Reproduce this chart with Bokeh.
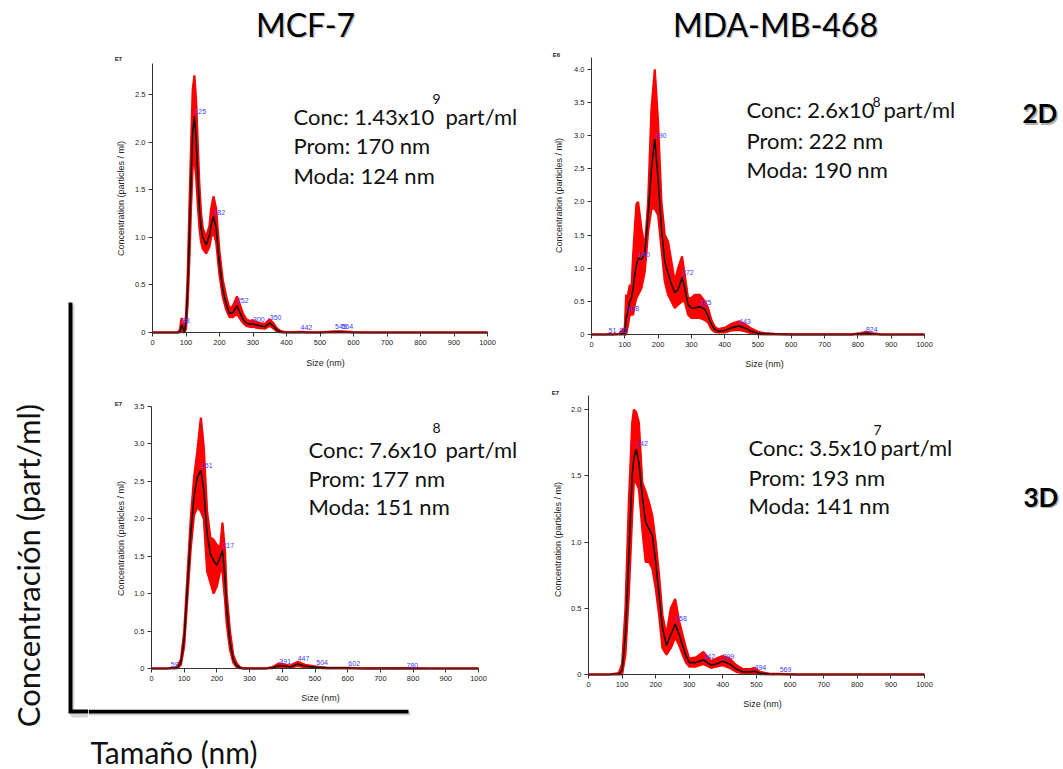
import math
from bokeh.plotting import figure
from bokeh.layouts import row, column
from bokeh.models import Range1d, Label, FixedTicker, PrintfTickFormatter, ColumnDataSource
from bokeh.core.properties import value
from bokeh.embed import file_html
from bokeh.resources import INLINE

# ---------------- data ----------------
cell_lines = ["MCF-7", "MDA-MB-468"]
conditions = ["2D", "3D"]
conc_mantissa = ["1.43", "2.6", "7.6", "3.5"]   # TL, TR, BL, BR
conc_exp = ["9", "8", "8", "7"]
prom_nm = [170, 222, 177, 193]
moda_nm = [124, 190, 151, 141]
exp_labels = ["E7", "E6", "E7", "E7"]
x_ticks = [0, 100, 200, 300, 400, 500, 600, 700, 800, 900, 1000]

# MCF-7 2D (x1e7 particles/ml)
tl_size = [0, 50, 75, 82, 86, 88, 91, 95, 100, 105, 110, 115, 120, 125, 130, 135, 140, 145, 150, 160, 170, 175, 182, 190, 200, 210, 220, 230, 240, 252, 260, 270, 280, 290, 300, 310, 320, 335, 350, 360, 370, 380, 390, 400, 420, 442, 460, 500, 545, 555, 564, 600, 650, 1000]
tl_mean = [0, 0, 0, 0.01, 0.06, 0.08, 0.04, 0.01, 0.1, 0.45, 1.0, 1.6, 2.1, 2.27, 2.05, 1.65, 1.3, 1.1, 1.0, 0.92, 1.02, 1.12, 1.22, 1.1, 0.72, 0.45, 0.3, 0.2, 0.21, 0.28, 0.22, 0.14, 0.1, 0.09, 0.09, 0.08, 0.07, 0.06, 0.1, 0.07, 0.03, 0.01, 0.0, 0, 0, 0.003, 0, 0, 0.005, 0.006, 0.005, 0, 0, 0]
tl_upper = [0, 0, 0, 0.03, 0.14, 0.15, 0.08, 0.02, 0.18, 0.6, 1.3, 1.95, 2.55, 2.7, 2.45, 2.0, 1.55, 1.25, 1.1, 1.0, 1.12, 1.3, 1.43, 1.3, 0.85, 0.55, 0.38, 0.25, 0.28, 0.38, 0.3, 0.2, 0.14, 0.12, 0.13, 0.11, 0.1, 0.09, 0.14, 0.1, 0.05, 0.02, 0.01, 0.005, 0.003, 0.008, 0.003, 0.002, 0.012, 0.012, 0.012, 0.003, 0, 0]
tl_lower = [0, 0, 0, 0, 0.02, 0.03, 0.01, 0, 0.04, 0.3, 0.75, 1.3, 1.75, 1.8, 1.65, 1.35, 1.1, 0.95, 0.88, 0.83, 0.9, 1.0, 1.05, 0.95, 0.6, 0.37, 0.24, 0.16, 0.16, 0.2, 0.15, 0.1, 0.07, 0.06, 0.06, 0.05, 0.045, 0.04, 0.07, 0.045, 0.015, 0.003, 0, 0, 0, 0, 0, 0, 0, 0, 0, 0, 0, 0]
tl_peaks = [88, 125, 182, 252, 300, 350, 442, 545, 564]
tl_peak_y = [0.13, 2.32, 1.26, 0.34, 0.136, 0.154, 0.05, 0.06, 0.06]
tl_yticks = [0, 0.5, 1.0, 1.5, 2.0, 2.5]

# MDA-MB-468 2D (x1e6 particles/ml)
tr_size = [0, 45, 51, 60, 83, 100, 104, 108, 115, 120, 125, 130, 135, 140, 150, 160, 170, 180, 190, 200, 210, 220, 230, 240, 250, 260, 272, 280, 290, 300, 310, 325, 340, 350, 360, 370, 380, 400, 420, 443, 460, 480, 500, 520, 550, 600, 780, 810, 824, 840, 870, 1000]
tr_mean = [0, 0, 0.003, 0, 0.003, 0.02, 0.25, 0.32, 0.5, 0.55, 0.7, 0.9, 1.05, 1.15, 1.13, 1.22, 1.8, 2.5, 2.95, 2.35, 1.6, 1.1, 0.92, 0.76, 0.63, 0.68, 0.86, 0.7, 0.45, 0.4, 0.4, 0.42, 0.38, 0.28, 0.15, 0.08, 0.05, 0.06, 0.1, 0.13, 0.1, 0.05, 0.02, 0.01, 0.005, 0, 0, 0.01, 0.02, 0.01, 0, 0]
tr_upper = [0, 0, 0.01, 0, 0.01, 0.1, 0.6, 0.55, 0.75, 0.7, 1.2, 1.6, 1.97, 2.0, 1.6, 1.3, 2.0, 3.4, 4.0, 3.2, 2.0, 1.5, 1.4, 1.1, 0.8, 1.0, 1.18, 0.9, 0.55, 0.55, 0.6, 0.6, 0.5, 0.4, 0.22, 0.12, 0.08, 0.1, 0.16, 0.2, 0.16, 0.09, 0.04, 0.02, 0.01, 0.003, 0.003, 0.02, 0.04, 0.02, 0.003, 0]
tr_lower = [0, 0, 0, 0, 0, 0, 0.0, 0.1, 0.3, 0.3, 0.3, 0.45, 0.55, 0.6, 0.7, 0.95, 1.55, 1.9, 1.9, 1.8, 1.3, 0.8, 0.6, 0.5, 0.4, 0.45, 0.5, 0.5, 0.3, 0.25, 0.25, 0.25, 0.22, 0.18, 0.08, 0.04, 0.03, 0.03, 0.06, 0.07, 0.05, 0.02, 0.005, 0, 0, 0, 0, 0, 0, 0, 0, 0]
tr_peaks = [51, 83, 108, 140, 190, 272, 325, 443, 824]
tr_peak_y = [0.055, 0.055, 0.39, 1.2, 3.0, 0.93, 0.49, 0.19, 0.075]
tr_yticks = [0, 0.5, 1.0, 1.5, 2.0, 2.5, 3.0, 3.5, 4.0]

# MCF-7 3D (x1e7 particles/ml)
bl_size = [0, 50, 59, 70, 80, 90, 100, 110, 120, 130, 140, 151, 160, 170, 180, 190, 200, 210, 217, 225, 230, 240, 250, 260, 270, 280, 350, 370, 391, 410, 425, 447, 470, 504, 540, 602, 650, 780, 850, 1000]
bl_mean = [0, 0, 0.005, 0.003, 0.02, 0.08, 0.4, 1.1, 1.8, 2.3, 2.55, 2.65, 2.38, 1.8, 1.53, 1.44, 1.38, 1.49, 1.58, 1.2, 0.8, 0.35, 0.12, 0.04, 0.01, 0, 0, 0.01, 0.04, 0.03, 0.02, 0.06, 0.03, 0.015, 0.005, 0.005, 0, 0.003, 0, 0]
bl_upper = [0, 0, 0.01, 0.005, 0.04, 0.12, 0.5, 1.25, 2.0, 2.55, 2.9, 3.35, 2.95, 2.1, 1.75, 1.72, 1.65, 1.62, 1.95, 1.55, 1.0, 0.5, 0.18, 0.07, 0.02, 0.003, 0.003, 0.02, 0.07, 0.05, 0.04, 0.09, 0.05, 0.025, 0.01, 0.01, 0.002, 0.005, 0, 0]
bl_lower = [0, 0, 0, 0, 0.005, 0.05, 0.3, 0.95, 1.6, 2.05, 2.15, 2.1, 2.0, 1.3, 1.15, 1.0, 1.1, 1.3, 1.3, 0.9, 0.6, 0.25, 0.08, 0.02, 0.003, 0, 0, 0.003, 0.02, 0.015, 0.01, 0.035, 0.015, 0.007, 0, 0, 0, 0, 0, 0]
bl_peaks = [59, 151, 217, 391, 447, 504, 602, 780]
bl_peak_y = [0.05, 2.71, 1.64, 0.09, 0.13, 0.075, 0.07, 0.045]
bl_yticks = [0, 0.5, 1.0, 1.5, 2.0, 2.5, 3.0, 3.5]

# MDA-MB-468 3D (x1e7 particles/ml)
br_size = [0, 60, 90, 100, 110, 120, 130, 135, 142, 150, 160, 170, 180, 190, 200, 210, 220, 232, 245, 258, 270, 280, 290, 300, 320, 342, 365, 380, 399, 420, 440, 460, 480, 494, 510, 540, 569, 620, 1000]
br_mean = [0, 0, 0.003, 0.03, 0.3, 0.9, 1.5, 1.63, 1.7, 1.6, 1.35, 1.15, 1.1, 1.05, 0.85, 0.6, 0.35, 0.22, 0.3, 0.38, 0.3, 0.22, 0.14, 0.09, 0.09, 0.11, 0.07, 0.08, 0.1, 0.08, 0.04, 0.02, 0.02, 0.025, 0.01, 0.002, 0.002, 0, 0]
br_upper = [0, 0, 0.01, 0.08, 0.5, 1.3, 1.9, 2.0, 1.98, 1.9, 1.45, 1.38, 1.3, 1.2, 1.0, 0.75, 0.45, 0.3, 0.5, 0.57, 0.4, 0.3, 0.2, 0.12, 0.13, 0.17, 0.1, 0.12, 0.14, 0.12, 0.07, 0.04, 0.04, 0.05, 0.02, 0.005, 0.005, 0, 0]
br_lower = [0, 0, 0, 0.0, 0.15, 0.6, 1.2, 1.45, 1.45, 1.4, 1.1, 0.85, 0.85, 0.8, 0.65, 0.45, 0.2, 0.15, 0.2, 0.28, 0.22, 0.15, 0.09, 0.06, 0.06, 0.08, 0.05, 0.06, 0.07, 0.05, 0.02, 0.01, 0.01, 0.01, 0.003, 0, 0, 0, 0]
br_peaks = [142, 258, 342, 399, 494, 569]
br_peak_y = [1.74, 0.42, 0.136, 0.136, 0.055, 0.035]
br_yticks = [0, 0.5, 1.0, 1.5, 2.0]

# ---------------- layout geometry (page pixels) ----------------
# fig_x/fig_y/w/h: figure box; fl/fr/ft/fb: where size 0..1000 and conc 0..ymax fall
GEOM = {
    "TL": dict(fig_x=88, fig_y=50, w=442, h=325, fl=152, fr=487, ft=63, fb=332, ymax=2.825),
    "TR": dict(fig_x=530, fig_y=50, w=533, h=325, fl=591, fr=924, ft=57, fb=334, ymax=4.18),
    "BL": dict(fig_x=88, fig_y=375, w=442, h=334, fl=151, fr=478, ft=406, fb=668, ymax=3.5),
    "BR": dict(fig_x=530, fig_y=375, w=533, h=334, fl=588, fr=924, ft=395, fb=674, ymax=2.106),
}

SANS = "Liberation Sans"
BIG = "Lato"


def to_data(g, px, py):
    x = (px - g["fl"]) / (g["fr"] - g["fl"]) * 1000.0
    y = (g["fb"] - py) / (g["fb"] - g["ft"]) * g["ymax"]
    return x, y


def add_label(p, g, text, px, py, size, font=BIG, style="normal", align="left",
              baseline="middle", color="#111111", angle=0.0):
    x, y = to_data(g, px, py)
    p.add_layout(Label(x=x, y=y, text=text, text_font=font, text_font_size=f"{size}px",
                       text_font_style=style, text_align=align, text_baseline=baseline,
                       text_color=color, angle=angle))


def panel(key, size, mean, lower, upper, peaks, peak_y, yticks, exp_text, pos, idx, side=None):
    g = GEOM[key]
    x0, y0 = to_data(g, g["fig_x"], g["fig_y"] + g["h"])
    x1, y1 = to_data(g, g["fig_x"] + g["w"], g["fig_y"])
    p = figure(width=g["w"], height=g["h"], x_range=Range1d(x0, x1), y_range=Range1d(y0, y1),
               toolbar_location=None, output_backend="svg", min_border=0)
    p.outline_line_color = None
    p.grid.visible = False
    p.background_fill_color = "white"
    p.border_fill_color = "white"

    src = ColumnDataSource(dict(size=size, mean=mean, lower=lower, upper=upper))
    p.varea(x="size", y1="lower", y2="upper", source=src, fill_color="#ff0000")
    p.line("size", "upper", source=src, line_color="#ff0000", line_width=2.2)
    p.line("size", "lower", source=src, line_color="#ff0000", line_width=2.2)
    p.line("size", "mean", source=src, line_color="#111111", line_width=1.6)

    lsrc = ColumnDataSource(dict(x=peaks, y=peak_y, t=[str(v) for v in peaks]))
    p.text(x="x", y="y", text="t", source=lsrc, text_font=value(SANS), text_font_size="7px",
           text_color="#3d3dff", text_align="left", text_baseline="middle")

    for ax in (p.xaxis[0], p.yaxis[0]):
        ax.fixed_location = 0
        ax.axis_line_color = "#333333"
        ax.major_tick_line_color = "#333333"
        ax.minor_tick_line_color = None
        ax.major_tick_in = 0
        ax.major_tick_out = 4
        ax.major_label_standoff = 3
        ax.major_label_text_font = SANS
        ax.major_label_text_font_size = "7.5px"
        ax.major_label_text_color = "#222222"
    p.xaxis.bounds = (0, 1000)
    p.yaxis.bounds = (0, g["ymax"])
    p.xaxis.ticker = FixedTicker(ticks=x_ticks)
    p.yaxis.ticker = FixedTicker(ticks=yticks)
    p.yaxis.formatter = PrintfTickFormatter(format="%.1f")
    p.yaxis.major_label_overrides = {0: "0"}

    # axis titles
    ax_, ay_ = pos["xlab"]
    add_label(p, g, "Size (nm)", ax_, ay_, 9, font=SANS, align="center", color="#222222")
    bx_, by_ = pos["ylab"]
    add_label(p, g, "Concentration (particles / ml)", bx_, by_, 9, font=SANS, align="center",
              color="#222222", angle=math.pi / 2)
    # exponent marker
    ex, ey = pos["exp"]
    add_label(p, g, exp_text, ex, ey, 6, font=SANS, style="bold", align="center", color="#222222")
    # summary text (vertical positions are line centres)
    cx, cy = pos["conc"]
    add_label(p, g, f"Conc: {conc_mantissa[idx]}x10", cx, cy, 22)
    sx, sy = pos["sup"]
    add_label(p, g, conc_exp[idx], sx, sy, 14)
    ux = pos["unit"]
    add_label(p, g, "part/ml", ux, cy, 22)
    add_label(p, g, f"Prom: {prom_nm[idx]} nm", cx, pos["prom"], 22)
    add_label(p, g, f"Moda: {moda_nm[idx]} nm", cx, pos["moda"], 22)
    if side is not None:
        txt, sx2, sy2 = side
        add_label(p, g, txt, sx2 + 1.5, sy2 + 1.5, 26, style="bold", color="#b0b0b0")
        add_label(p, g, txt, sx2, sy2, 26, style="bold", color="#000000")
    return p


def decor_fig(w, h):
    p = figure(width=w, height=h, x_range=Range1d(0, w), y_range=Range1d(h, 0),
               x_axis_location=None, y_axis_location=None, toolbar_location=None,
               output_backend="svg", min_border=0)
    p.outline_line_color = None
    p.grid.visible = False
    return p


tl = panel("TL", tl_size, tl_mean, tl_lower, tl_upper, tl_peaks, tl_peak_y, tl_yticks, exp_labels[0],
           dict(exp=(118, 58), conc=(293, 115.5), sup=(432, 98), unit=445, prom=144.5, moda=174.5,
                xlab=(325, 362), ylab=(120, 198)), 0)
tr = panel("TR", tr_size, tr_mean, tr_lower, tr_upper, tr_peaks, tr_peak_y, tr_yticks, exp_labels[1],
           dict(exp=(556, 54), conc=(746, 109), sup=(872, 101), unit=883, prom=140, moda=168.5,
                xlab=(764, 363), ylab=(558, 195)), 1,
           side=(conditions[0], 1022, 112.5))
bl = panel("BL", bl_size, bl_mean, bl_lower, bl_upper, bl_peaks, bl_peak_y, bl_yticks, exp_labels[2],
           dict(exp=(118, 403), conc=(308, 448.5), sup=(432, 427), unit=445, prom=477.5, moda=505.5,
                xlab=(320, 697), ylab=(120, 538)), 2)
br = panel("BR", br_size, br_mean, br_lower, br_upper, br_peaks, br_peak_y, br_yticks, exp_labels[3],
           dict(exp=(555, 392), conc=(748, 447), sup=(873, 429), unit=880, prom=477, moda=505,
                xlab=(762, 703), ylab=(557, 539)), 3,
           side=(conditions[1], 1023, 496))

# title band (page x 88..1063, y 0..50)
title = decor_fig(975, 50)
title.text(x=[217 + 1.5, 687 + 1.5], y=[23.5 + 1.5, 23.5 + 1.5], text=cell_lines, text_font=value(BIG),
           text_font_size="32px", text_color="#999999", text_alpha=0.6, text_align="center",
           text_baseline="middle")
title.text(x=[217, 687], y=[23.5, 23.5], text=cell_lines, text_font=value(BIG), text_font_size="32px",
           text_color="#000000", text_align="center", text_baseline="middle")

# left strip (page x 0..88, y 0..769)
left = decor_fig(88, 769)
left.line(x=[72, 72, 88], y=[304, 715, 715], line_color="#bbbbbb", line_width=4, line_alpha=0.6)
left.line(x=[70, 70, 88], y=[302, 711, 711], line_color="#000000", line_width=4, line_join="miter")
left.text(x=[27], y=[565], text=["Concentración (part/ml)"], text_font=value(BIG), text_font_size="31px",
          text_color="#111111", angle=math.pi / 2, text_align="center", text_baseline="middle")

# bottom band (page x 88..1063, y 709..769)
bottom = decor_fig(975, 60)
bottom.line(x=[0, 322], y=[4, 4], line_color="#bbbbbb", line_width=4, line_alpha=0.6)
bottom.line(x=[0, 320], y=[2, 2], line_color="#000000", line_width=4)
bottom.text(x=[2], y=[42], text=["Tamaño (nm)"], text_font=value(BIG), text_font_size="30px",
            text_color="#111111", text_align="left", text_baseline="middle")

layout = row(left, column(title, row(tl, tr), row(bl, br), bottom))

open("out.html", "w").write(file_html(layout, INLINE))
